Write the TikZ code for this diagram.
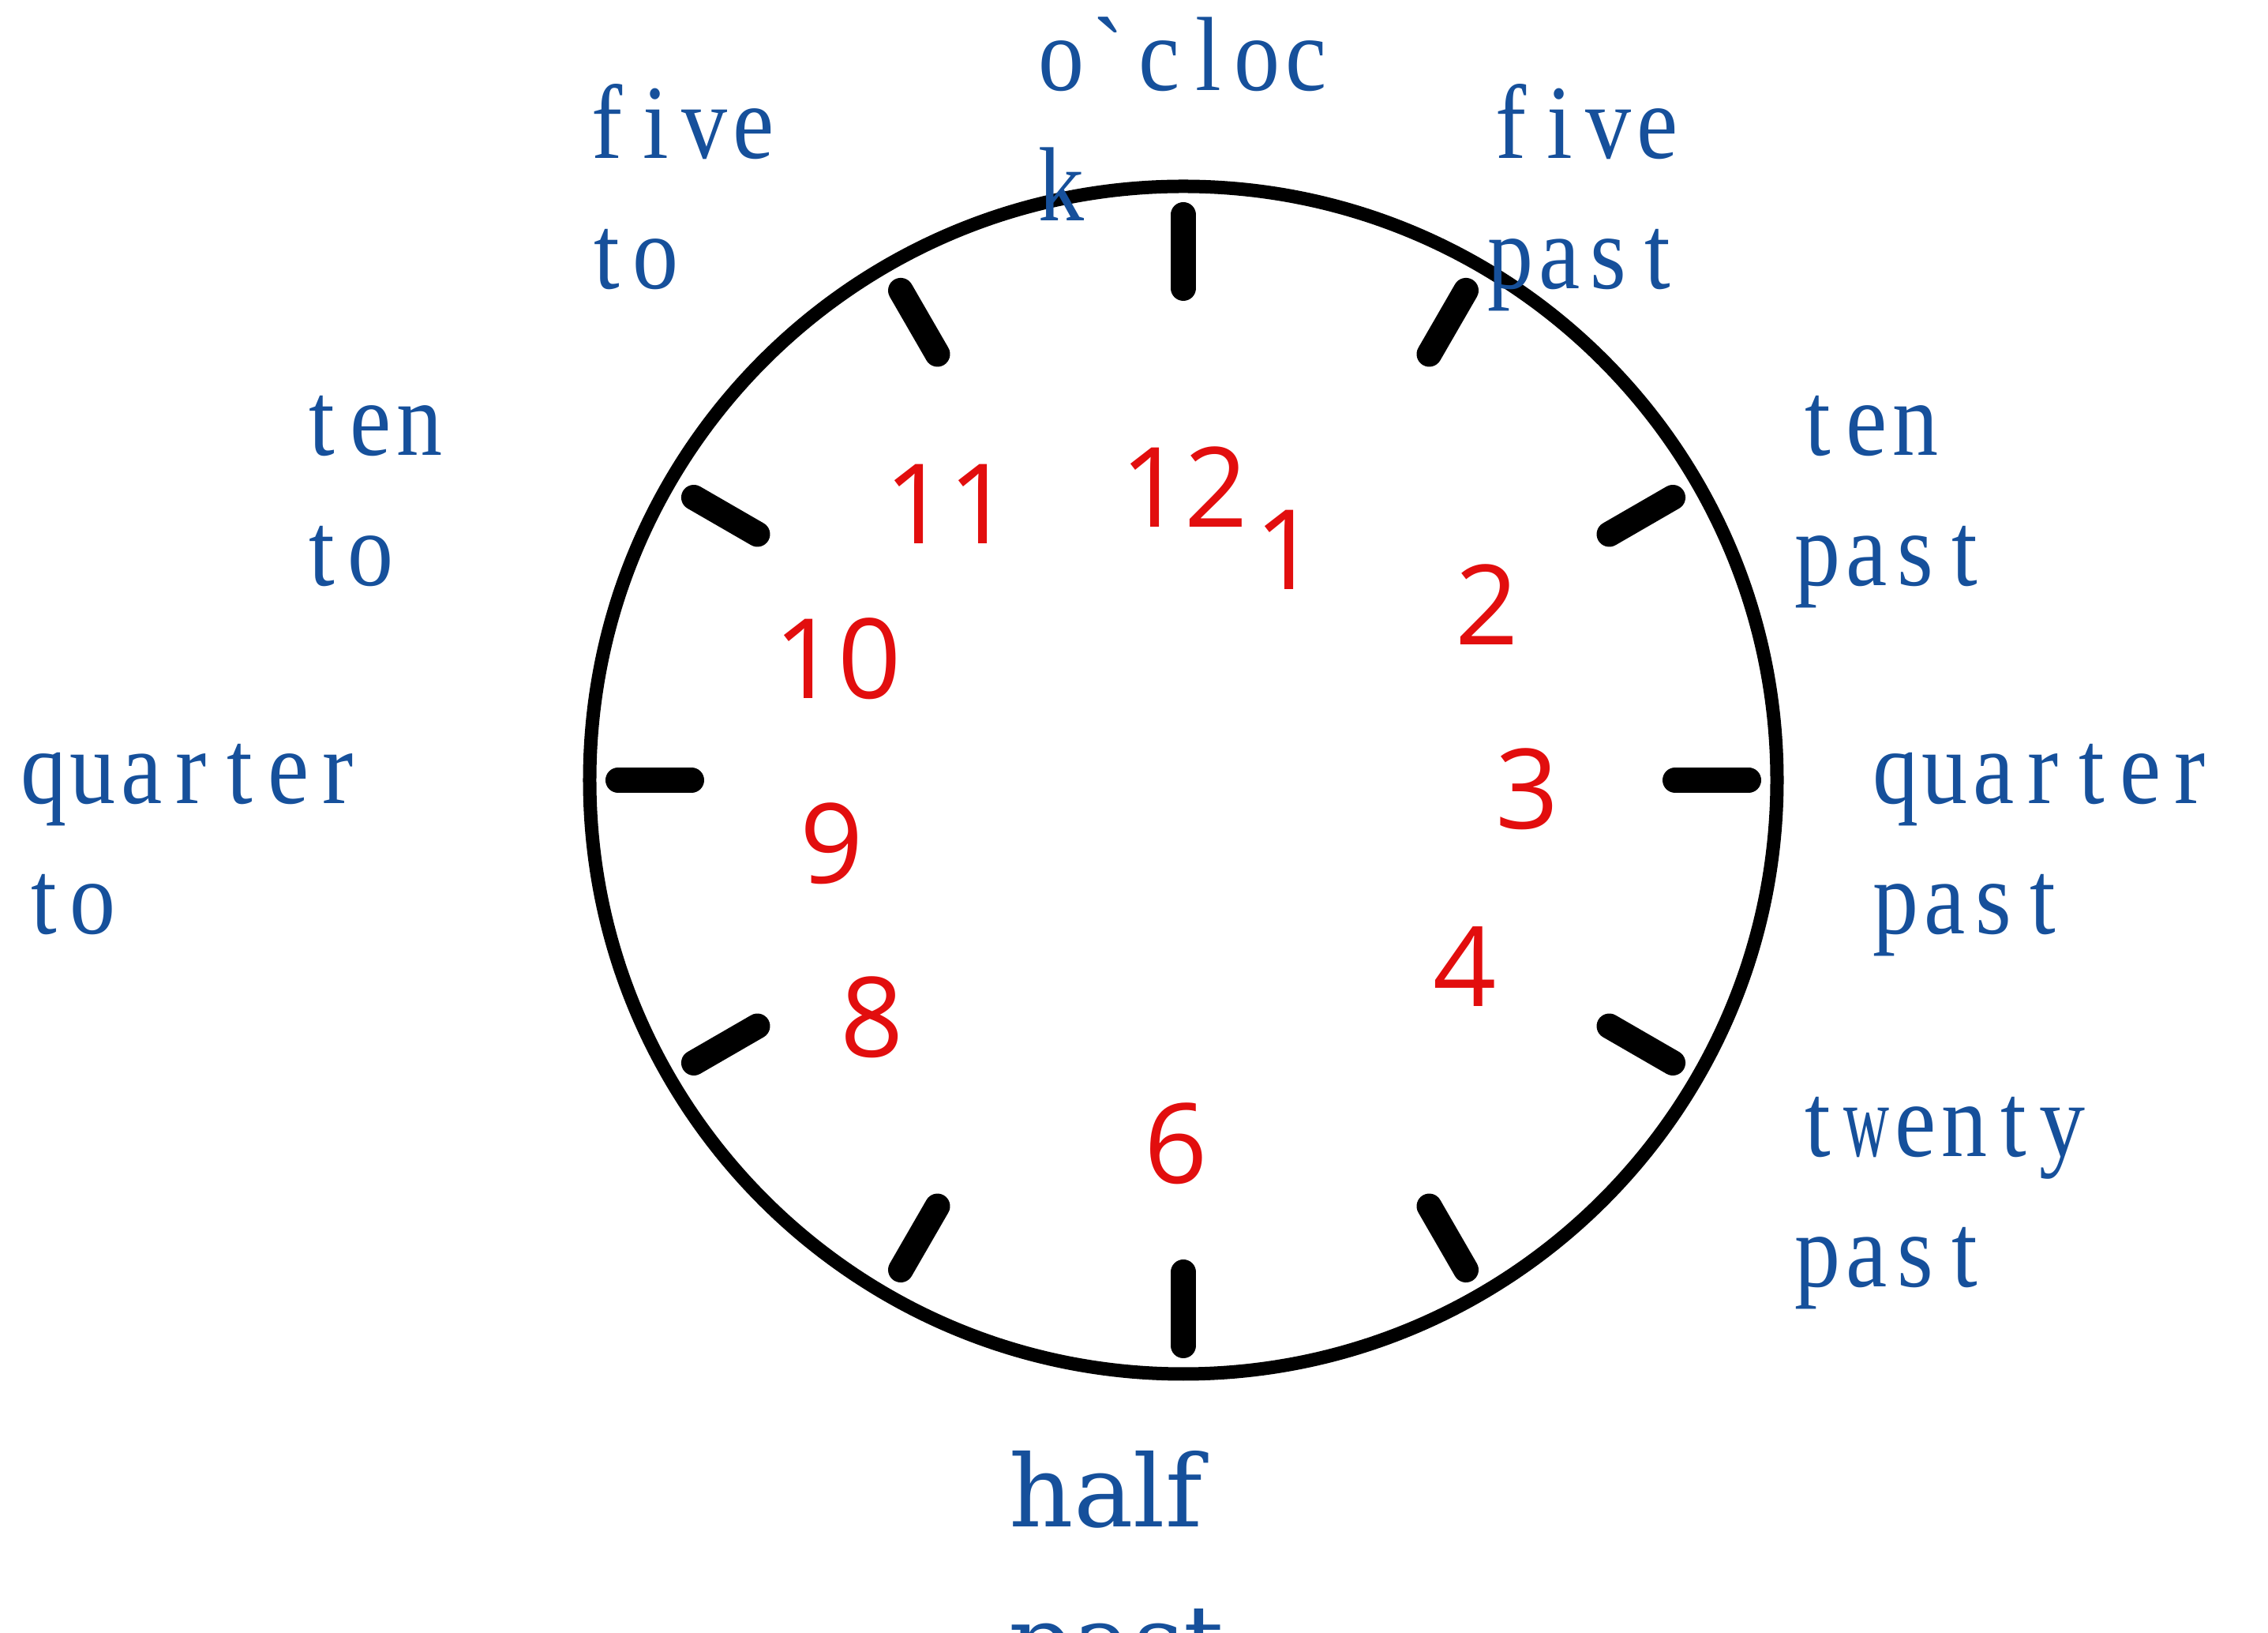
\documentclass[tikz,border=0pt]{standalone}
\usepackage{fontspec}
\setmainfont{Liberation Serif}
\newfontfamily\wordfont[FakeStretch=0.88]{Liberation Serif}
\newfontfamily\numfont{Open Sans}
\newfontfamily\halffont{DejaVu Serif}
\usepackage{xcolor}
\usepackage{graphicx}
\usetikzlibrary{positioning}
\usetikzlibrary{calc}
\definecolor{wordblue}{RGB}{22,80,155}
\definecolor{numred}{RGB}{226,14,14}
\newlength\cellw
\setlength\cellw{0.62cm}
\newlength\clkw
\makeatletter
\newcommand\spaced[1]{\@tfor\clkch:=#1\do{%
	\settowidth\clkw{\clkch}%
	\ifdim\clkw>0.58cm \makebox[\cellw]{\resizebox{0.58cm}{\height}{\clkch}}%
	\else\makebox[\cellw]{\clkch}\fi}}
\makeatother

\begin{document}
\begin{tikzpicture}
	\tikzstyle{hourtick}=[line width=0.32cm,line cap=round]
	\tikzstyle{numeral}=[text=numred,font=\numfont\fontsize{40}{48}\selectfont,inner sep=0pt]
	\tikzstyle{wordlabel}=[text=wordblue,font=\wordfont\fontsize{38}{47}\selectfont,align=left,anchor=base west,inner sep=0pt]

	\clip (-14.99,-10.80) rectangle (13.74,9.88);

	\coordinate (c) at (0,0);
	\draw[line width=0.17cm] (c) circle (7.52);

	\draw[hourtick] (90:6.23) -- (90:7.16);
	\draw[hourtick] (60:6.23) -- (60:7.16);
	\draw[hourtick] (30:6.23) -- (30:7.16);
	\draw[hourtick] (0:6.23) -- (0:7.16);
	\draw[hourtick] (-30:6.23) -- (-30:7.16);
	\draw[hourtick] (-60:6.23) -- (-60:7.16);
	\draw[hourtick] (-90:6.23) -- (-90:7.16);
	\draw[hourtick] (-120:6.23) -- (-120:7.16);
	\draw[hourtick] (-150:6.23) -- (-150:7.16);
	\draw[hourtick] (180:6.23) -- (180:7.16);
	\draw[hourtick] (150:6.23) -- (150:7.16);
	\draw[hourtick] (120:6.23) -- (120:7.16);

	\node (n12) [numeral] at (0.01,3.71) {12};
	\node (n1) [numeral] at (1.31,2.92) {1};
	\node (n2) [numeral] at (3.85,2.22) {2};
	\node (n3) [numeral] at (4.36,-0.11) {3};
	\node (n4) [numeral] at (3.57,-2.36) {4};
	\node (n6) [numeral] at (-0.09,-4.60) {6};
	\node (n8) [numeral] at (-3.94,-3.00) {8};
	\node (n9) [numeral] at (-4.45,-0.80) {9};
	\node (n10) [numeral] at (-4.38,1.54) {10};
	\node (n11) [numeral] at (-2.98,3.50) {11};

	% base west = baseline of the second line
	\node (oclock) [wordlabel] at (-1.86,7.08) {\spaced{o}\makebox[\cellw]{\textasciigrave}\spaced{cloc}\\\spaced{k}};
	\node (fivepast) [wordlabel] at (3.83,6.22) {\spaced{five}\\\spaced{past}};
	\node (tenpast) [wordlabel] at (7.72,2.46) {\spaced{ten}\\\spaced{past}};
	\node (quarterpast) [wordlabel] at (8.71,-1.95) {\spaced{quarter}\\\spaced{past}};
	\node (twentypast) [wordlabel] at (7.72,-6.42) {\spaced{twenty}\\\spaced{past}};
	\node (halfpast) [wordlabel,font=\halffont\fontsize{36}{54}\selectfont] at (-2.21,-11.35) {half\\past};
	\node (quarterto) [wordlabel] at (-14.75,-1.95) {\spaced{quarter}\\\spaced{to}};
	\node (tento) [wordlabel] at (-11.23,2.46) {\spaced{ten}\\\spaced{to}};
	\node (fiveto) [wordlabel] at (-7.62,6.22) {\spaced{five}\\\spaced{to}};

\end{tikzpicture}
\end{document}
